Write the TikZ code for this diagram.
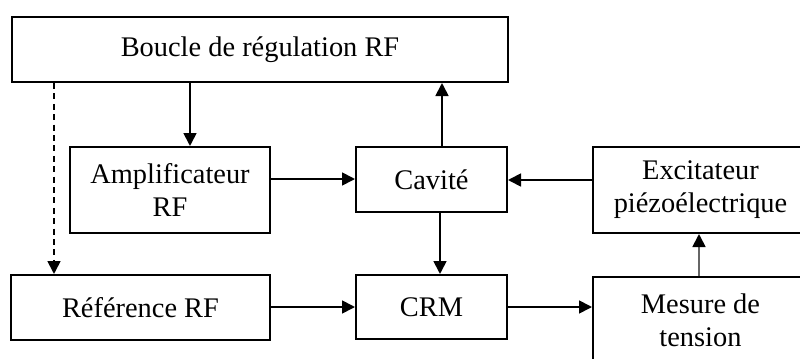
\documentclass[tikz,border=0pt]{standalone}
\usepackage{fontspec}
\setmainfont{Liberation Serif}
\usetikzlibrary{arrows.meta}
\begin{document}
\begin{tikzpicture}[x=0.5pt,y=-0.5pt,
  blk/.style={draw, line width=1pt, rectangle, inner sep=0pt, align=center,
    font=\fontsize{14.2}{16.5}\selectfont},
  arr/.style={line width=0.9pt, -{Triangle[length=6.5pt,width=6.5pt,color=black]}},
  darr/.style={arr, dash pattern=on 3pt off 2.2pt}]
\useasboundingbox (0,0) rectangle (800,359);
\clip (0,0) rectangle (800,359);
\node[blk, minimum width=248pt, minimum height=32.5pt] (boucle) at (260,49.5) {Boucle de régulation RF};
\node[blk, minimum width=100pt, minimum height=43pt] (amp) at (170,190) {Amplificateur\\RF};
\node[blk, minimum width=75.5pt, minimum height=32.5pt] (cav) at (431.5,179.5) {Cavité};
\node[blk, minimum width=107.5pt, minimum height=43pt] (exc) at (700.5,190) {Excitateur\\piézoélectrique};
\node[blk, minimum width=129.5pt, minimum height=32.5pt] (ref) at (140.5,307.5) {Référence RF};
\node[blk, minimum width=75.5pt, minimum height=32pt] (crm) at (431.5,307) {CRM};
\node[blk, minimum width=107.5pt, minimum height=43pt, text depth=0pt] (mes) at (700.5,320) {Mesure de\\tension};
\coordinate (xa) at (190,0);
\coordinate (xd) at (54,0);
\coordinate (xu) at (442,0);
\coordinate (xc) at (440,0);
\coordinate (xm) at (699,0);
\coordinate (ya) at (0,179);
\coordinate (ye) at (0,180);
\coordinate (yr) at (0,307);
\draw[arr] (boucle.south -| xa) -- (amp.north -| xa);
\draw[darr] (boucle.south -| xd) -- (ref.north -| xd);
\draw[arr] (amp.east |- ya) -- (cav.west |- ya);
\draw[arr] (cav.north -| xu) -- (boucle.south -| xu);
\draw[arr] (exc.west |- ye) -- (cav.east |- ye);
\draw[arr] (cav.south -| xc) -- (crm.north -| xc);
\draw[arr] (ref.east |- yr) -- (crm.west |- yr);
\draw[arr] (crm.east |- yr) -- (mes.west |- yr);
\draw[arr, draw=black!60] (mes.north -| xm) -- (exc.south -| xm);
\end{tikzpicture}
\end{document}
